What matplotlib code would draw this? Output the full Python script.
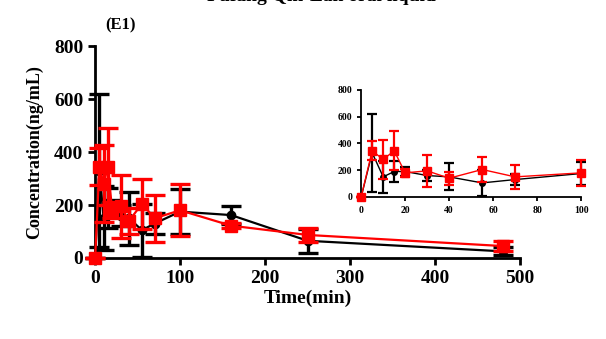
import numpy as np
import matplotlib
matplotlib.use('Agg')
import matplotlib.pyplot as plt

# sampling times (min)
time = [0, 5, 10, 15, 20, 30, 40, 55, 70, 100, 160, 250, 480]

# black series (circles)
black_mean = [0, 330, 150, 190, 190, 160, 150, 105, 130, 175, 162, 65, 25]
black_err = [0, 290, 120, 75, 30, 40, 100, 100, 40, 85, 35, 45, 15]

# red series (squares)
red_mean = [0, 345, 280, 345, 180, 195, 140, 205, 150, 180, 122, 87, 45]
red_err = [0, 70, 145, 145, 30, 118, 48, 95, 88, 98, 10, 25, 20]

x_ticks = [0, 100, 200, 300, 400, 500]
y_ticks = [0, 200, 400, 600, 800]
inset_x_ticks = [0, 20, 40, 60, 80, 100]

plt.rcParams['font.family'] = ['Liberation Serif', 'DejaVu Serif']
plt.rcParams['font.weight'] = 'bold'


def draw_series(ax, t, bm, be, rm, re, lw, cap, ms_b, ms_r, elw):
    ax.errorbar(t, bm, yerr=be, color='black', marker='o', ms=ms_b,
                lw=lw, elinewidth=elw, capsize=cap, capthick=elw,
                clip_on=False, zorder=3)
    ax.errorbar(t, rm, yerr=re, color='#ff0000', marker='s', ms=ms_r,
                lw=lw, elinewidth=elw, capsize=cap, capthick=elw,
                clip_on=False, zorder=4)


def style_axes(ax, lw, size, tl):
    for s in ['top', 'right']:
        ax.spines[s].set_visible(False)
    for s in ['left', 'bottom']:
        ax.spines[s].set_linewidth(lw)
    ax.tick_params(width=lw, length=tl, labelsize=size, direction='out')
    for lab in ax.get_xticklabels() + ax.get_yticklabels():
        lab.set_fontweight('bold')


fig = plt.figure(figsize=(6.06, 3.39), dpi=100)

ax = fig.add_axes([0.157, 0.239, 0.701, 0.625])
draw_series(ax, time, black_mean, black_err, red_mean, red_err,
            1.6, 7, 6, 8, 2.4)
ax.set_xlim(0, 500)
ax.set_ylim(0, 800)
ax.set_xticks(x_ticks)
ax.set_yticks(y_ticks)
style_axes(ax, 2.0, 14, 5)
ax.set_xlabel('Time(min)', fontsize=14, fontweight='bold', labelpad=2)
ax.set_ylabel('Concentration(ng/mL)', fontsize=13, fontweight='bold', labelpad=8)

# inset zoom on first 100 min
n = 10
axin = fig.add_axes([0.596, 0.419, 0.363, 0.316])
draw_series(axin, time[:n], black_mean[:n], black_err[:n],
            red_mean[:n], red_err[:n], 1.0, 3.5, 4, 5.5, 1.6)
axin.set_xlim(0, 100)
axin.set_ylim(0, 800)
axin.set_xticks(inset_x_ticks)
axin.set_yticks(y_ticks)
style_axes(axin, 1.3, 7, 3)

fig.text(0.173, 0.925, '(E1)', fontsize=12, fontweight='bold', va='center')
fig.text(0.53, 1.01, 'Fufang Qin-Lan oral liquid', fontsize=14,
         fontweight='bold', ha='center', va='center')

fig.savefig('out.png', dpi=100)
